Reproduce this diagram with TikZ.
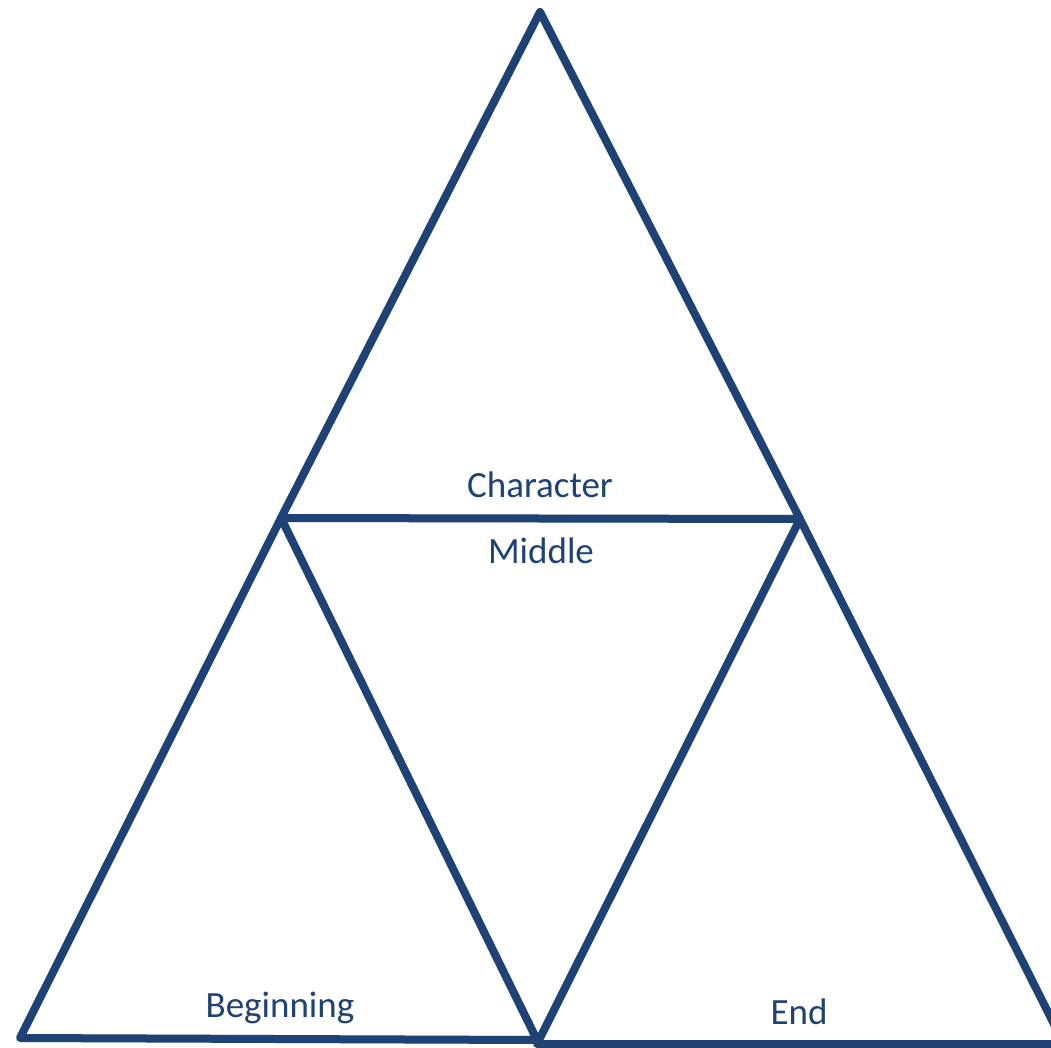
\documentclass[tikz,border=0pt]{standalone}
\usepackage{fontspec}
\setmainfont{Carlito}
\definecolor{tblue}{RGB}{30,66,115}
\definecolor{tshadow}{RGB}{190,190,190}
\begin{document}
\begin{tikzpicture}[x=1pt,y=-1pt,
  edge/.style={draw=tblue,line width=8pt,line join=round,line cap=round},
  shade/.style={draw=tshadow,line width=8pt,line join=round,line cap=round,opacity=0.5},
  lbl/.style={text=tblue,font=\fontsize{37}{41}\selectfont,inner sep=0pt}]
\useasboundingbox (0,0) rectangle (1051,1048);
\begin{scope}
\clip (0,0) rectangle (1051,1048);
% vertices
\coordinate (A) at (540,12);
\coordinate (L) at (281,518);
\coordinate (R) at (800,519);
\coordinate (BL) at (20,1038);
\coordinate (BM) at (537,1040);
\coordinate (BM2) at (537,1044);
\coordinate (BR) at (1064,1044);
% shadows
\begin{scope}[shift={(2,3)}]
\draw[shade] (A) -- (L) -- (R) -- cycle;
\draw[shade] (L) -- (BL) -- (BM) -- cycle;
\draw[shade] (R) -- (BM2) -- (BR);
\draw[shade] (BM2) -- (BR);
\end{scope}
% triangles
\draw[edge] (A) -- (L) -- (R) -- cycle;
\draw[edge] (L) -- (BL) -- (BM) -- cycle;
\draw[edge] (R) -- (BM2) -- (BR) -- cycle;
\end{scope}
% labels
\node[lbl] (character) at (540,485) {Character};
\node[lbl] (middle) at (541,551) {Middle};
\node[lbl] (beginning) at (280,1008) {Beginning};
\node[lbl] (end) at (799,1012) {End};
\end{tikzpicture}
\end{document}
